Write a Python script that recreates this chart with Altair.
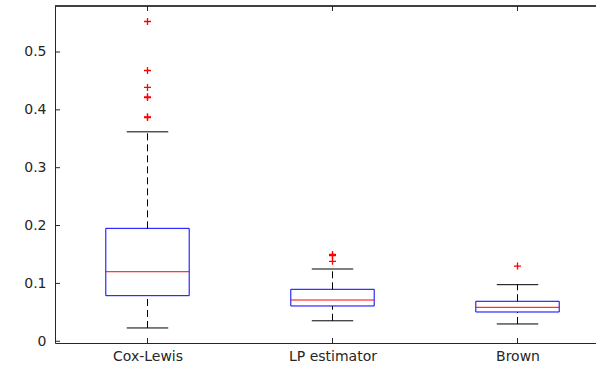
import altair as alt
import pandas as pd

names = ["Cox-Lewis", "LP estimator", "Brown"]
positions = [1, 2, 3]
q1 = [0.0788, 0.0610, 0.0506]
median = [0.1202, 0.0713, 0.0587]
q3 = [0.1952, 0.0898, 0.0691]
whisker_lo = [0.0230, 0.0354, 0.0299]
whisker_hi = [0.3620, 0.1249, 0.0978]

outlier_pos = [1, 1, 1, 1, 1, 1, 1, 2, 2, 2, 3]
outlier_val = [0.5527, 0.4680, 0.4387, 0.4225, 0.4213, 0.3880, 0.3868,
               0.1500, 0.1480, 0.1382, 0.1300]

y_ticks = [0, 0.1, 0.2, 0.3, 0.4, 0.5]

BOX_HALF = 0.2254
CAP_HALF = 0.112
W, H = 541, 337
AX = "#262626"
FONT = "DejaVu Sans"

boxes = pd.DataFrame({"pos": positions, "name": names, "q1": q1, "med": median,
                      "q3": q3, "lo": whisker_lo, "hi": whisker_hi})
outl = pd.DataFrame({"pos": outlier_pos, "val": outlier_val})
yt = pd.DataFrame({"v": y_ticks})
xt = pd.DataFrame({"p": positions})

xscale = alt.Scale(domain=[0.5, 3.4243], nice=False, zero=False)
yscale = alt.Scale(domain=[-0.003, 0.5795], nice=False, zero=False)

label_expr = "[" + ",".join("'" + n + "'" for n in names) + "][datum.value-1]"

base = alt.Chart(boxes).transform_calculate(
    bl="datum.pos - %f" % BOX_HALF, br="datum.pos + %f" % BOX_HALF,
    cl="datum.pos - %f" % CAP_HALF, cr="datum.pos + %f" % CAP_HALF,
)

box = base.mark_rect(fill="transparent", stroke="#0000ff", strokeWidth=1).encode(
    x=alt.X("bl:Q", scale=xscale, title=None,
            axis=alt.Axis(values=positions, labelExpr=label_expr, ticks=False, grid=False,
                          domainColor=AX, labelColor=AX, labelFont=FONT, labelFontSize=14,
                          labelPadding=6)),
    x2="br:Q",
    y=alt.Y("q1:Q", scale=yscale, title=None,
            axis=alt.Axis(values=y_ticks, format="~g", ticks=False, grid=False,
                          domainColor=AX, labelColor=AX, labelFont=FONT, labelFontSize=14,
                          labelPadding=9)),
    y2="q3:Q",
)

wh_up = base.mark_rule(color="black", strokeDash=[7, 4], strokeWidth=1).encode(
    x=alt.X("pos:Q", scale=xscale, axis=None), y=alt.Y("q3:Q", scale=yscale, axis=None), y2="hi:Q")
wh_lo = base.mark_rule(color="black", strokeDash=[7, 4], strokeWidth=1).encode(
    x=alt.X("pos:Q", scale=xscale, axis=None), y=alt.Y("lo:Q", scale=yscale, axis=None), y2="q1:Q")
cap_hi = base.mark_rule(color="black", strokeWidth=1).encode(
    x=alt.X("cl:Q", scale=xscale, axis=None), x2="cr:Q", y=alt.Y("hi:Q", scale=yscale, axis=None))
cap_lo = base.mark_rule(color="black", strokeWidth=1).encode(
    x=alt.X("cl:Q", scale=xscale, axis=None), x2="cr:Q", y=alt.Y("lo:Q", scale=yscale, axis=None))
med = base.mark_rule(color="#ff0000", strokeWidth=1).encode(
    x=alt.X("bl:Q", scale=xscale, axis=None), x2="br:Q", y=alt.Y("med:Q", scale=yscale, axis=None))

ytick = alt.Chart(yt).mark_rule(color=AX, strokeWidth=1).encode(
    x=alt.value(0), x2=alt.value(5), y=alt.Y("v:Q", scale=yscale, axis=None))
xtick_b = alt.Chart(xt).mark_rule(color=AX, strokeWidth=1).encode(
    x=alt.X("p:Q", scale=xscale, axis=None), y=alt.value(H), y2=alt.value(H - 5))
xtick_t = alt.Chart(xt).mark_rule(color=AX, strokeWidth=1).encode(
    x=alt.X("p:Q", scale=xscale, axis=None), y=alt.value(0), y2=alt.value(5))
top = alt.Chart(xt).mark_rule(color=AX, strokeWidth=1).encode(
    x=alt.value(0), x2=alt.value(W), y=alt.value(0))

pts = alt.Chart(outl).mark_point(shape="M-1,0L1,0M0,-1L0,1", filled=False, stroke="#ff0000",
                                 fill="transparent", size=49, strokeWidth=1.3, opacity=1,
                                 strokeOpacity=1).encode(
    x=alt.X("pos:Q", scale=xscale, axis=None), y=alt.Y("val:Q", scale=yscale, axis=None))

chart = alt.layer(box, wh_up, wh_lo, cap_hi, cap_lo, med, ytick, xtick_b, xtick_t, top, pts).resolve_axis(
    x="independent", y="independent"
).properties(
    width=W, height=H,
    autosize=alt.AutoSizeParams(type="none"),
    padding={"left": 55, "top": 6, "right": 0, "bottom": 24},
    background="white",
).configure_view(stroke=None)

chart.save("out.html", embed_options={"renderer": "svg", "actions": False})
